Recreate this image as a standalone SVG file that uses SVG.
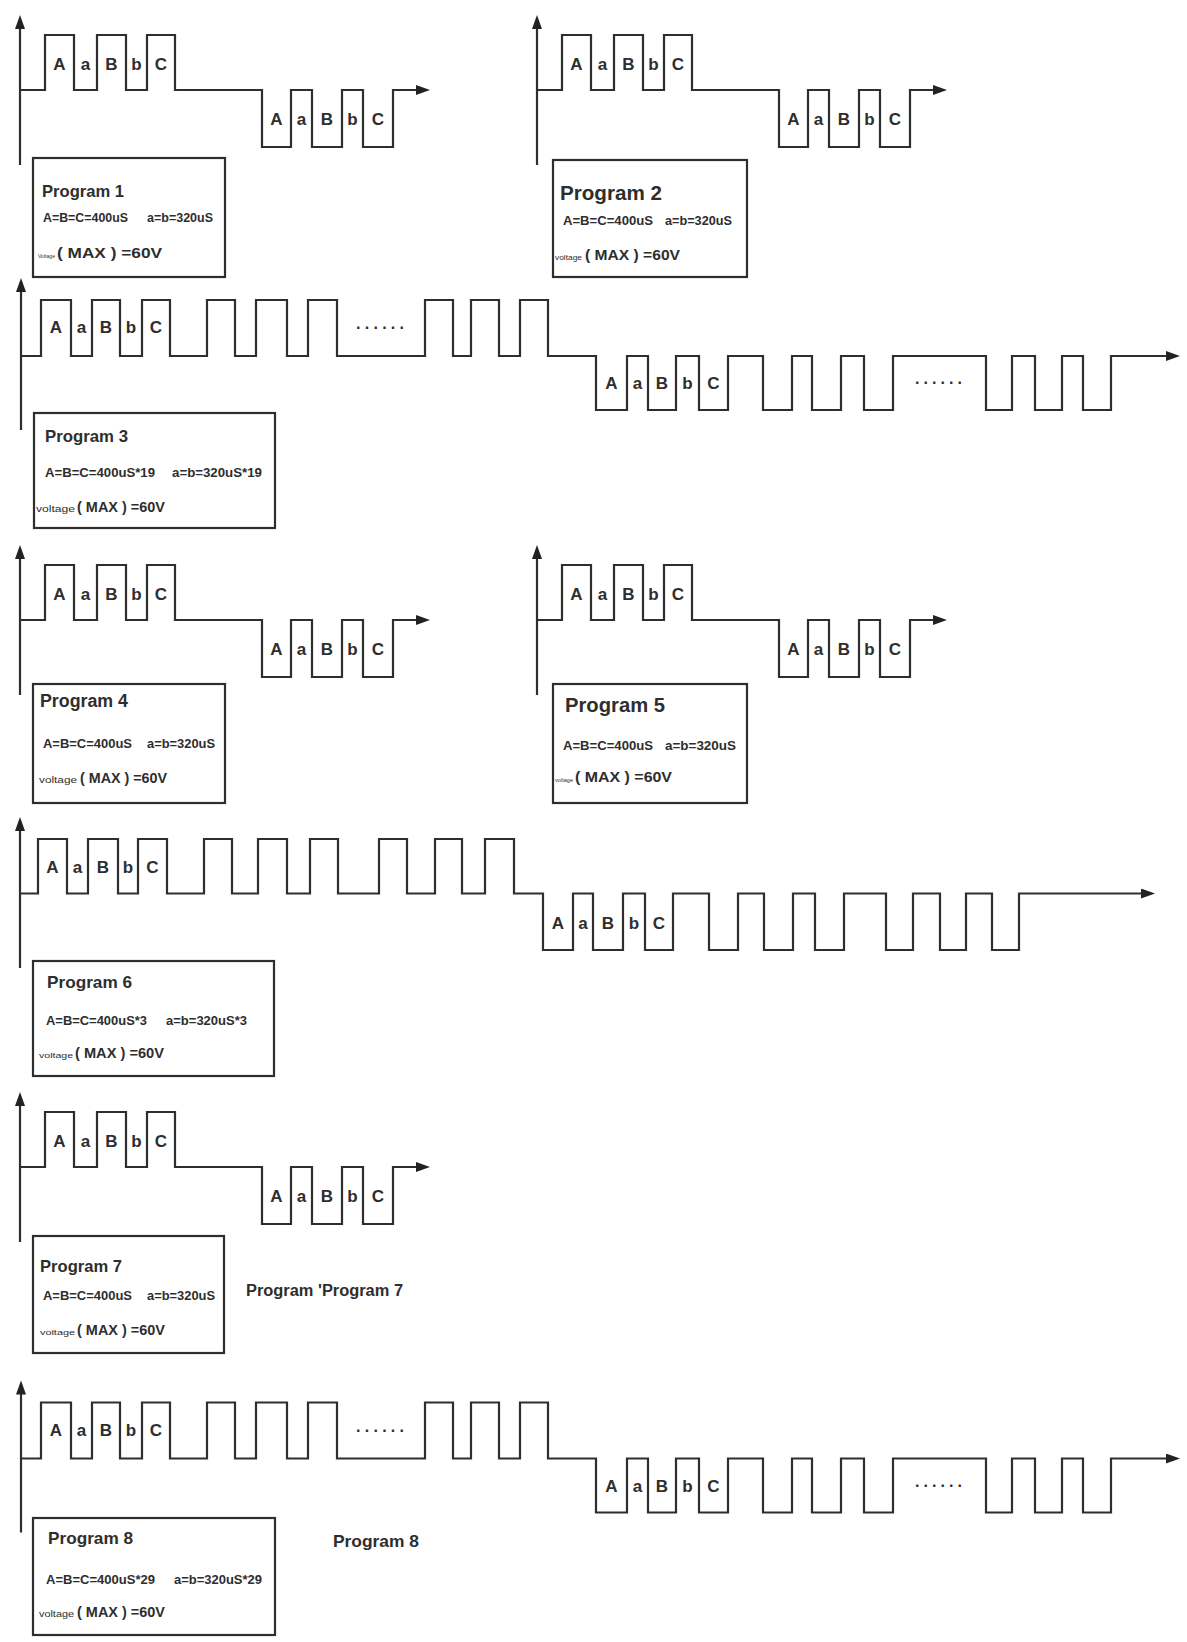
<svg xmlns="http://www.w3.org/2000/svg" xmlns:xlink="http://www.w3.org/1999/xlink" width="1187" height="1642" viewBox="0 0 1187 1642">
<style>
.bg{fill:#ffffff}
.w{fill:none;stroke:#2e2e2e;stroke-width:2.2;stroke-linejoin:miter}
.box{fill:none;stroke:#2e2e2e;stroke-width:2.2}
.t{font-family:"Liberation Sans",Arial,Helvetica,sans-serif;fill:#2e2e2e}
.lbl{font-weight:bold;font-size:17px;text-anchor:middle}
.ttl{font-weight:bold}
.prm{font-weight:bold;font-size:12px}
.vs{font-weight:normal}
.vm{font-weight:bold;font-size:15px}
.dots{font-weight:bold;font-size:16px}
</style>
<defs>
<marker id="ah" markerUnits="userSpaceOnUse" markerWidth="14" markerHeight="10" refX="6" refY="5" orient="auto">
<path d="M0,0 L14,5 L0,10 z" fill="#222"/>
</marker>
<g id="wave1">
<path class="w" d="M20,165 V23" marker-end="url(#ah)"/>
<path class="w" d="M20,90 H45 V35 H74 V90 H97 V35 H126 V90 H147 V35 H175 V90 H262 V147 H291 V90 H312 V147 H342 V90 H363 V147 H393 V90 H422" marker-end="url(#ah)"/>
<g class="t lbl">
<text x="59.5" y="70">A</text><text x="85.5" y="70">a</text><text x="111.5" y="70">B</text><text x="136.5" y="70">b</text><text x="161" y="70">C</text>
<text x="276.5" y="125">A</text><text x="301.5" y="125">a</text><text x="327" y="125">B</text><text x="352.5" y="125">b</text><text x="378" y="125">C</text>
</g>
</g>
<g id="wave3">
<path class="w" d="M21,430 V286" marker-end="url(#ah)"/>
<path class="w" d="M21,356 H41 V300 H71 V356 H92 V300 H120 V356 H142 V300 H170 V356 H207 V300 H235 V356 H256 V300 H287 V356 H308 V300 H337 V356 H425 V300 H453 V356 H471 V300 H499 V356 H520 V300 H548 V356 H596 V410 H627 V356 H648 V410 H676 V356 H699 V410 H728 V356 H763 V410 H792 V356 H812 V410 H841 V356 H864 V410 H893 V356 H986 V410 H1012 V356 H1035 V410 H1062 V356 H1083 V410 H1111 V356 H1172" marker-end="url(#ah)"/>
<g class="t lbl">
<text x="56" y="333">A</text><text x="81.5" y="333">a</text><text x="106" y="333">B</text><text x="131" y="333">b</text><text x="156" y="333">C</text>
<text x="611.5" y="389">A</text><text x="637.5" y="389">a</text><text x="662" y="389">B</text><text x="687.5" y="389">b</text><text x="713.5" y="389">C</text>
</g>
<text class="t dots" x="356" y="329" textLength="48" lengthAdjust="spacing">......</text>
<text class="t dots" x="915" y="384" textLength="47" lengthAdjust="spacing">......</text>
</g>
</defs>
<rect class="bg" x="0" y="0" width="1187" height="1642"/>

<g id="program1">
<use xlink:href="#wave1" href="#wave1"/>
<rect class="box" x="33" y="158" width="192" height="119"/>
<text class="t ttl" x="42" y="197" font-size="16.5" textLength="82" lengthAdjust="spacingAndGlyphs">Program 1</text>
<text class="t prm" x="43" y="222" textLength="85" lengthAdjust="spacingAndGlyphs">A=B=C=400uS</text>
<text class="t prm" x="147" y="222" textLength="66" lengthAdjust="spacingAndGlyphs">a=b=320uS</text>
<text class="t vs" x="38" y="258" font-size="6" textLength="17" lengthAdjust="spacingAndGlyphs">Voltage</text>
<text class="t vm" x="57" y="258" textLength="105" lengthAdjust="spacingAndGlyphs">( MAX ) =60V</text>
</g>

<g id="program2">
<use xlink:href="#wave1" href="#wave1" transform="translate(517,0)"/>
<rect class="box" x="553" y="160" width="194" height="117"/>
<text class="t ttl" x="560" y="200" font-size="20" textLength="102" lengthAdjust="spacingAndGlyphs">Program 2</text>
<text class="t prm" x="563" y="225" textLength="90" lengthAdjust="spacingAndGlyphs">A=B=C=400uS</text>
<text class="t prm" x="665" y="225" textLength="67" lengthAdjust="spacingAndGlyphs">a=b=320uS</text>
<text class="t vs" x="555" y="260" font-size="7" textLength="27" lengthAdjust="spacingAndGlyphs">voltage</text>
<text class="t vm" x="585" y="260" textLength="95" lengthAdjust="spacingAndGlyphs">( MAX ) =60V</text>
</g>

<g id="program3">
<use xlink:href="#wave3" href="#wave3"/>
<rect class="box" x="34" y="413" width="241" height="115"/>
<text class="t ttl" x="45" y="442" font-size="16.5" textLength="83" lengthAdjust="spacingAndGlyphs">Program 3</text>
<text class="t prm" x="45" y="477" textLength="110" lengthAdjust="spacingAndGlyphs">A=B=C=400uS*19</text>
<text class="t prm" x="172" y="477" textLength="90" lengthAdjust="spacingAndGlyphs">a=b=320uS*19</text>
<text class="t vs" x="36" y="512" font-size="9" textLength="39" lengthAdjust="spacingAndGlyphs">voltage</text>
<text class="t vm" x="77" y="512" textLength="88" lengthAdjust="spacingAndGlyphs">( MAX ) =60V</text>
</g>

<g id="program4">
<use xlink:href="#wave1" href="#wave1" transform="translate(0,530)"/>
<rect class="box" x="33" y="684" width="192" height="119"/>
<text class="t ttl" x="40" y="707" font-size="17.5" textLength="88" lengthAdjust="spacingAndGlyphs">Program 4</text>
<text class="t prm" x="43" y="748" textLength="89" lengthAdjust="spacingAndGlyphs">A=B=C=400uS</text>
<text class="t prm" x="147" y="748" textLength="68" lengthAdjust="spacingAndGlyphs">a=b=320uS</text>
<text class="t vs" x="39" y="783" font-size="9" textLength="38" lengthAdjust="spacingAndGlyphs">voltage</text>
<text class="t vm" x="80" y="783" textLength="87" lengthAdjust="spacingAndGlyphs">( MAX ) =60V</text>
</g>

<g id="program5">
<use xlink:href="#wave1" href="#wave1" transform="translate(517,530)"/>
<rect class="box" x="553" y="684" width="194" height="119"/>
<text class="t ttl" x="565" y="712" font-size="20" textLength="100" lengthAdjust="spacingAndGlyphs">Program 5</text>
<text class="t prm" x="563" y="750" textLength="90" lengthAdjust="spacingAndGlyphs">A=B=C=400uS</text>
<text class="t prm" x="665" y="750" textLength="71" lengthAdjust="spacingAndGlyphs">a=b=320uS</text>
<text class="t vs" x="555" y="782" font-size="6" textLength="18" lengthAdjust="spacingAndGlyphs">voltage</text>
<text class="t vm" x="575" y="782" textLength="97" lengthAdjust="spacingAndGlyphs">( MAX ) =60V</text>
</g>

<g id="program6">
<path class="w" d="M20,968 V825" marker-end="url(#ah)"/>
<path class="w" d="M20,893.5 H38 V839 H67 V893.5 H88 V839 H118 V893.5 H138 V839 H167 V893.5 H204 V839 H232 V893.5 H258 V839 H287 V893.5 H310 V839 H338 V893.5 H379 V839 H407 V893.5 H435 V839 H462 V893.5 H485 V839 H514 V893.5 H543 V950 H573 V893.5 H593 V950 H623 V893.5 H645 V950 H673 V893.5 H709 V950 H738 V893.5 H764 V950 H793 V893.5 H815 V950 H844 V893.5 H886 V950 H913 V893.5 H940 V950 H966 V893.5 H992 V950 H1019 V893.5 H1147" marker-end="url(#ah)"/>
<g class="t lbl">
<text x="52.5" y="873">A</text><text x="77.5" y="873">a</text><text x="103" y="873">B</text><text x="128" y="873">b</text><text x="152.5" y="873">C</text>
<text x="558" y="928.5">A</text><text x="583" y="928.5">a</text><text x="608" y="928.5">B</text><text x="634" y="928.5">b</text><text x="659" y="928.5">C</text>
</g>
<rect class="box" x="33" y="961" width="241" height="115"/>
<text class="t ttl" x="47" y="988" font-size="17" textLength="85" lengthAdjust="spacingAndGlyphs">Program 6</text>
<text class="t prm" x="46" y="1025" textLength="101" lengthAdjust="spacingAndGlyphs">A=B=C=400uS*3</text>
<text class="t prm" x="166" y="1025" textLength="81" lengthAdjust="spacingAndGlyphs">a=b=320uS*3</text>
<text class="t vs" x="39" y="1058" font-size="8" textLength="34" lengthAdjust="spacingAndGlyphs">voltage</text>
<text class="t vm" x="75" y="1058" textLength="89" lengthAdjust="spacingAndGlyphs">( MAX ) =60V</text>
</g>

<g id="program7">
<use xlink:href="#wave1" href="#wave1" transform="translate(0,1077)"/>
<rect class="box" x="33" y="1236" width="191" height="117"/>
<text class="t ttl" x="40" y="1272" font-size="16.5" textLength="82" lengthAdjust="spacingAndGlyphs">Program 7</text>
<text class="t prm" x="43" y="1300" textLength="89" lengthAdjust="spacingAndGlyphs">A=B=C=400uS</text>
<text class="t prm" x="147" y="1300" textLength="68" lengthAdjust="spacingAndGlyphs">a=b=320uS</text>
<text class="t vs" x="40" y="1335" font-size="8" textLength="35" lengthAdjust="spacingAndGlyphs">voltage</text>
<text class="t vm" x="77" y="1335" textLength="88" lengthAdjust="spacingAndGlyphs">( MAX ) =60V</text>
<text class="t ttl" x="246" y="1296" font-size="16" textLength="157" lengthAdjust="spacingAndGlyphs">Program 'Program 7</text>
</g>

<g id="program8">
<use xlink:href="#wave3" href="#wave3" transform="translate(0,1102.5)"/>
<rect class="box" x="33" y="1518" width="242" height="117"/>
<text class="t ttl" x="48" y="1544" font-size="17" textLength="85" lengthAdjust="spacingAndGlyphs">Program 8</text>
<text class="t prm" x="46" y="1584" textLength="109" lengthAdjust="spacingAndGlyphs">A=B=C=400uS*29</text>
<text class="t prm" x="174" y="1584" textLength="88" lengthAdjust="spacingAndGlyphs">a=b=320uS*29</text>
<text class="t vs" x="39" y="1617" font-size="9" textLength="35" lengthAdjust="spacingAndGlyphs">voltage</text>
<text class="t vm" x="77" y="1617" textLength="88" lengthAdjust="spacingAndGlyphs">( MAX ) =60V</text>
<text class="t ttl" x="333" y="1547" font-size="17" textLength="86" lengthAdjust="spacingAndGlyphs">Program 8</text>
</g>
</svg>
